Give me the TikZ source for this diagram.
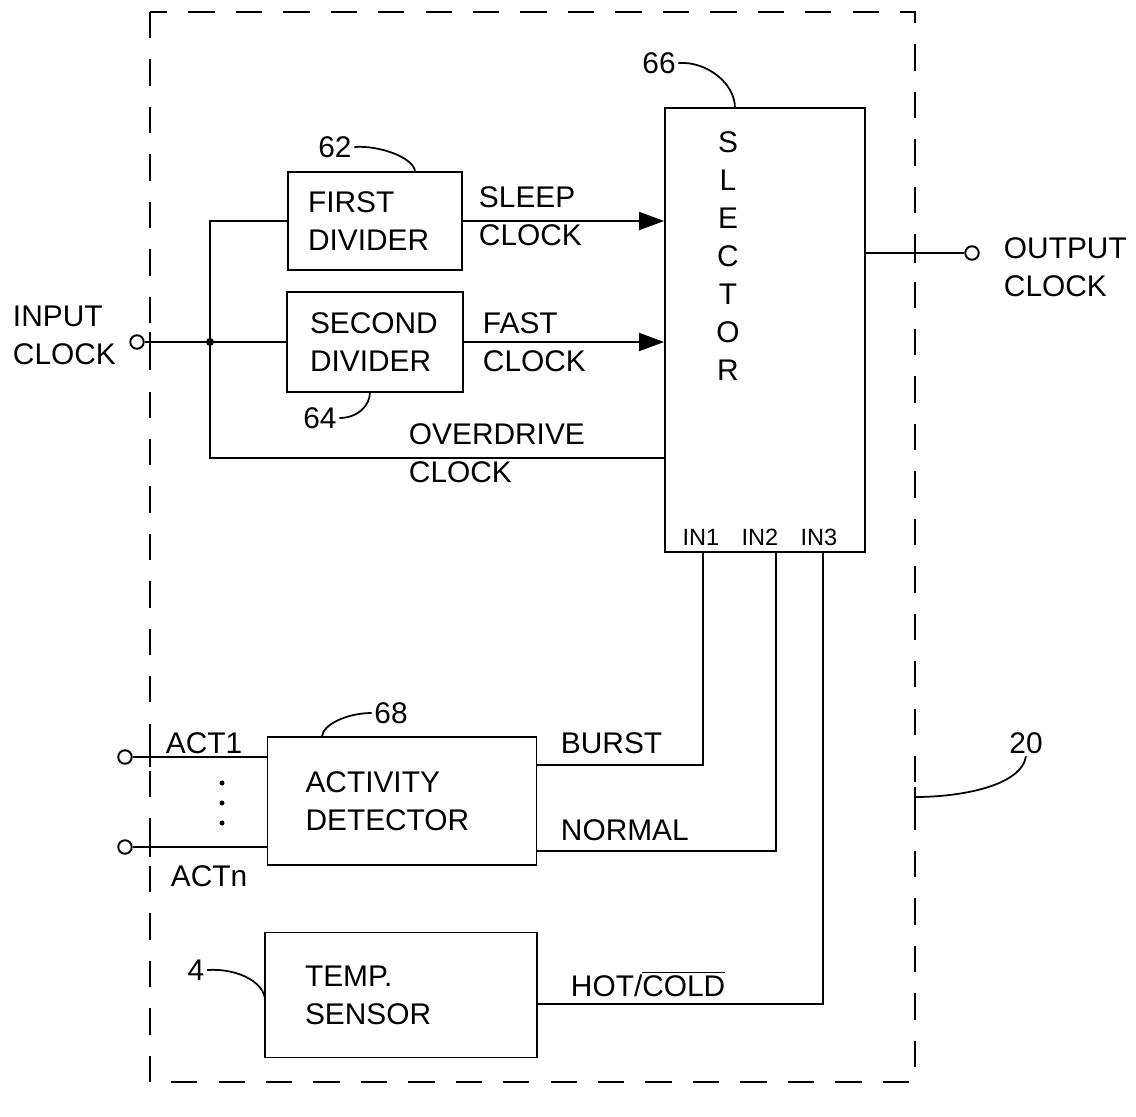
\documentclass[tikz,border=0pt]{standalone}
\usepackage{fontspec}
\setmainfont{Liberation Sans}
\usetikzlibrary{arrows.meta}

\begin{document}
\begin{tikzpicture}[
    x=0.02cm,
    y=-0.02cm,
    line width=1.1pt,
    font=\fontsize{17}{21.5}\selectfont,
    block/.style={draw,rectangle,align=left,inner ysep=0pt},
    signal/.style={-{Triangle[length=0.5cm,width=0.36cm]}},
    terminal/.style={draw,circle,minimum size=0.27cm,inner sep=0pt,fill=white},
    tag/.style={inner sep=0pt,align=left,anchor=west},
    numeral/.style={inner sep=1pt},
    leader/.style={line width=1pt},
    boundary/.style={dash pattern=on 15pt off 12pt},
    port/.style={font=\fontsize{13.4}{15}\selectfont,inner sep=0pt}
]
    \useasboundingbox (0,0) rectangle (1136,1116);

    % Dashed outline of the circuit and crossing ticks
    \draw[boundary] (150,12) rectangle (915,1082);
    \foreach \y in {342,757,847}{
        \draw (150,\y-10) -- (150,\y+10);
    }
    \draw (915,243) -- (915,263);
    \draw (915,787) -- (915,807);

    % Blocks
    \node[block,text width=2.68cm,inner xsep=0.4cm,minimum height=1.96cm]
        (first) at (375,221) {FIRST\\DIVIDER};
    \node[block,text width=2.6cm,inner xsep=0.46cm,minimum height=2cm]
        (second) at (375,342) {SECOND\\DIVIDER};
    \node[draw,minimum width=4cm,minimum height=8.88cm] (sel) at (765,330) {};
    \foreach \l [count=\i] in {S,L,E,C,T,O,R}{
        \node (let\i) at (728,104+38*\i) {\l};
    }
    \node[port] (in1) at (701,537) {IN1};
    \node[port] (in2) at (760,537) {IN2};
    \node[port] (in3) at (819,537) {IN3};
    \node[block,text width=3.86cm,inner xsep=0.76cm,minimum height=2.56cm]
        (act) at (402,801) {ACTIVITY\\DETECTOR};
    \node[block,text width=3.84cm,inner xsep=0.8cm,minimum height=2.5cm]
        (temp) at (401,995) {TEMP.\\SENSOR};

    % Clock input and dividers
    \node[terminal] (inc) at (137,342) {};
    \node[tag] (inlbl) at (12,335) {INPUT\\CLOCK};
    \coordinate (j) at (210,342);
    \coordinate (od) at (210,458);
    \draw (inc) -- (second.west);
    \fill (j) circle (4);
    \draw (j) |- (first.west);
    \draw (j) -- (od) -- (od -| sel.west);
    \draw[signal] (first.east) -- (first.east -| sel.west);
    \draw[signal] (second.east) -- (second.east -| sel.west);
    \node[tag] (sleeplbl) at (478,216) {SLEEP\\CLOCK};
    \node[tag] (fastlbl) at (482,342) {FAST\\CLOCK};
    \node[tag] (odlbl) at (408,453) {OVERDRIVE\\CLOCK};

    % Output
    \node[terminal] (outc) at (972,253) {};
    \draw (sel.east |- outc) -- (outc);
    \node[tag] (outlbl) at (1003,267) {OUTPUT\\CLOCK};

    % Activity inputs
    \node[terminal] (a1) at (125,757) {};
    \node[terminal] (an) at (125,847) {};
    \draw (a1) -- (a1 -| act.west);
    \draw (an) -- (an -| act.west);
    \foreach \y in {783,803,823}{
        \fill (222,\y) circle (2.5);
    }
    \node[tag] (act1lbl) at (165,743) {ACT1};
    \node[tag] (actnlbl) at (170,876) {ACTn};

    % Selector inputs
    \coordinate (b1) at (703,765);
    \coordinate (b2) at (776,851);
    \coordinate (b3) at (823,1004);
    \draw (b1 |- sel.south) -- (b1) -- (b1 -| act.east);
    \draw (b2 |- sel.south) -- (b2) -- (b2 -| act.east);
    \draw (b3 |- sel.south) -- (b3) -- (b3 -| temp.east);
    \node[tag] (burstlbl) at (560,743) {BURST};
    \node[tag] (normallbl) at (560,830) {NORMAL};
    \node[tag,anchor=base west] (hotlbl) at (570,996) {HOT/$\overline{\mbox{COLD}}$};

    % Reference numerals
    \node[numeral] (n66) at (659,63) {66};
    \draw[leader] (n66.east) .. controls +(28,-2) and +(0,-25) .. (735,108);
    \node[numeral] (n62) at (335,147) {62};
    \draw[leader] (n62.east) .. controls +(25,-2) and +(0,-14) .. (415,172);
    \node[numeral] (n64) at (320,418) {64};
    \draw[leader] (n64.east) .. controls +(18,0) and +(0,14) .. (370,392);
    \node[numeral] (n68) at (391,713) {68};
    \draw[leader] (n68.west) .. controls +(-25,0) and +(0,-12) .. (322,737);
    \node[numeral] (n4) at (196,970) {4};
    \draw[leader] (n4.east) .. controls +(35,-2) and +(0,-15) .. (265,1000);
    \node[numeral] (n20) at (1026,743) {20};
    \draw[leader] (n20.south) .. controls +(-5,30) and +(45,0) .. (915,797);
\end{tikzpicture}
\end{document}
